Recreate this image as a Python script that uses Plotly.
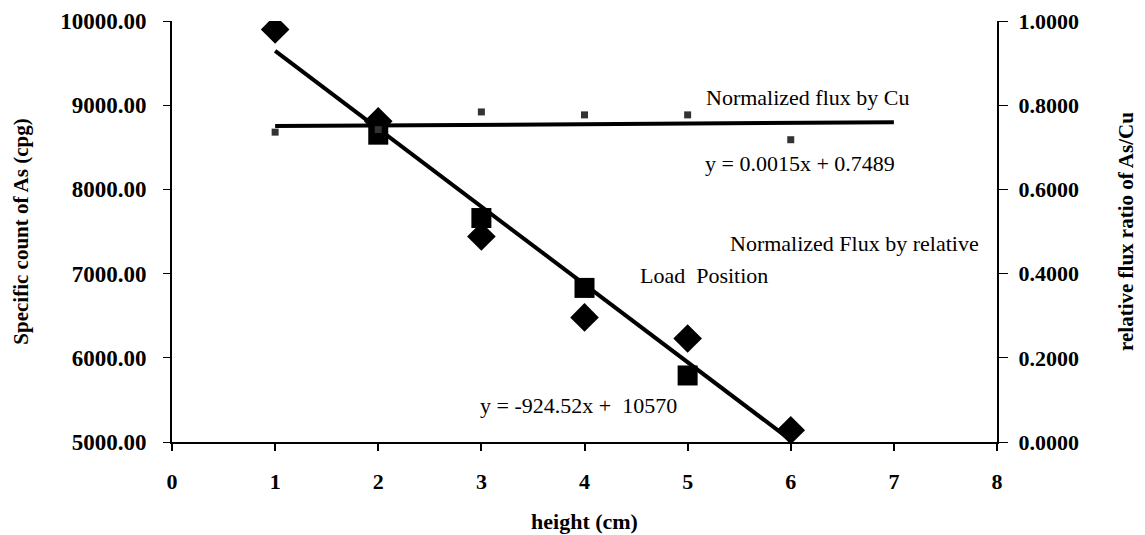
import plotly.graph_objects as go

# data
heights = [1, 2, 3, 4, 5, 6]
count_diamond = [9900, 8810, 7440, 6480, 6230, 5140]          # left axis (cpg)
heights_sq = [2, 3, 4, 5]
count_square = [8650, 7660, 6830, 5790]                        # left axis (cpg)
ratio_cu = [0.736, 0.742, 0.784, 0.777, 0.777, 0.718]          # right axis
# trend line equations shown on the chart
lin_a, lin_b = -924.52, 10570
cu_a, cu_b = 0.0015, 0.7489
lin_x = [1, 6]
cu_x = [1, 7]

FONT = "Liberation Serif"

fig = go.Figure()
fig.add_trace(go.Scatter(x=lin_x, y=[lin_a * v + lin_b for v in lin_x], mode="lines",
                         line=dict(color="black", width=4), showlegend=False))
fig.add_trace(go.Scatter(x=heights, y=count_diamond, mode="markers",
                         marker=dict(symbol="diamond", size=22, color="black"), showlegend=False))
fig.add_trace(go.Scatter(x=heights_sq, y=count_square, mode="markers",
                         marker=dict(symbol="square", size=20, color="black"), showlegend=False))
fig.add_trace(go.Scatter(x=cu_x, y=[cu_a * v + cu_b for v in cu_x], mode="lines", yaxis="y2",
                         line=dict(color="black", width=4), showlegend=False))
fig.add_trace(go.Scatter(x=heights, y=ratio_cu, mode="markers", yaxis="y2",
                         marker=dict(symbol="square", size=7, color="#333"), showlegend=False))

fig.update_layout(
    width=1145, height=535,
    margin=dict(l=172, r=148, t=21, b=93),
    paper_bgcolor="white", plot_bgcolor="white",
    font=dict(family=FONT, color="black"),
    xaxis=dict(range=[0, 8], dtick=1, showgrid=False, zeroline=False, automargin=False,
               showline=True, linecolor="black", linewidth=2,
               ticks="outside", ticklen=7, tickcolor="black", tickwidth=2,
               ticklabelstandoff=12,
               tickfont=dict(family=FONT, size=22, color="black", weight="bold"),
               title=dict(text="<b>height (cm)</b>", font=dict(family=FONT, size=22), standoff=20)),
    yaxis=dict(range=[5000, 10000], dtick=1000, tickformat=".2f", showgrid=False, zeroline=False,
               automargin=False,
               showline=True, linecolor="black", linewidth=2,
               ticks="outside", ticklen=7, tickcolor="black", tickwidth=1,
               ticklabelstandoff=12,
               tickfont=dict(family=FONT, size=23, color="black", weight="bold"),
               title=dict(text="<b>Specific count of As (cpg)</b>", font=dict(family=FONT, size=21), standoff=26)),
    yaxis2=dict(range=[0, 1], dtick=0.2, tickformat=".4f", overlaying="y", side="right",
                automargin=False,
                showgrid=False, zeroline=False, showline=True, linecolor="black", linewidth=2,
                ticks="outside", ticklen=9, tickcolor="black", tickwidth=1,
                ticklabelstandoff=6,
                tickfont=dict(family=FONT, size=22, color="black", weight="bold"),
                title=dict(text="<b>relative flux ratio of As/Cu</b>", font=dict(family=FONT, size=21), standoff=40)),
    yaxis3=dict(range=[0, 1], dtick=0.2, overlaying="y", side="right", anchor="x",
                automargin=False,
                showgrid=False, zeroline=False, showline=False, showticklabels=False,
                ticks="inside", ticklen=9, tickcolor="black", tickwidth=1),
)

annfont = dict(family=FONT, size=22, color="black")
anns = [
    (807, 97, "Normalized flux by Cu"),
    (800, 163, "y = 0.0015x + 0.7489"),
    (854, 243, "Normalized Flux by relative"),
    (704, 275, "Load  Position"),
    (578, 405, "y = -924.52x +  10570"),
]
for px, py, t in anns:
    fig.add_annotation(x=(px - 172) / (997 - 172), y=(442 - py) / (442 - 21), xref="paper", yref="paper",
                       text=t, showarrow=False, font=annfont, xanchor="center", yanchor="middle")

fig.write_html("out.html")
